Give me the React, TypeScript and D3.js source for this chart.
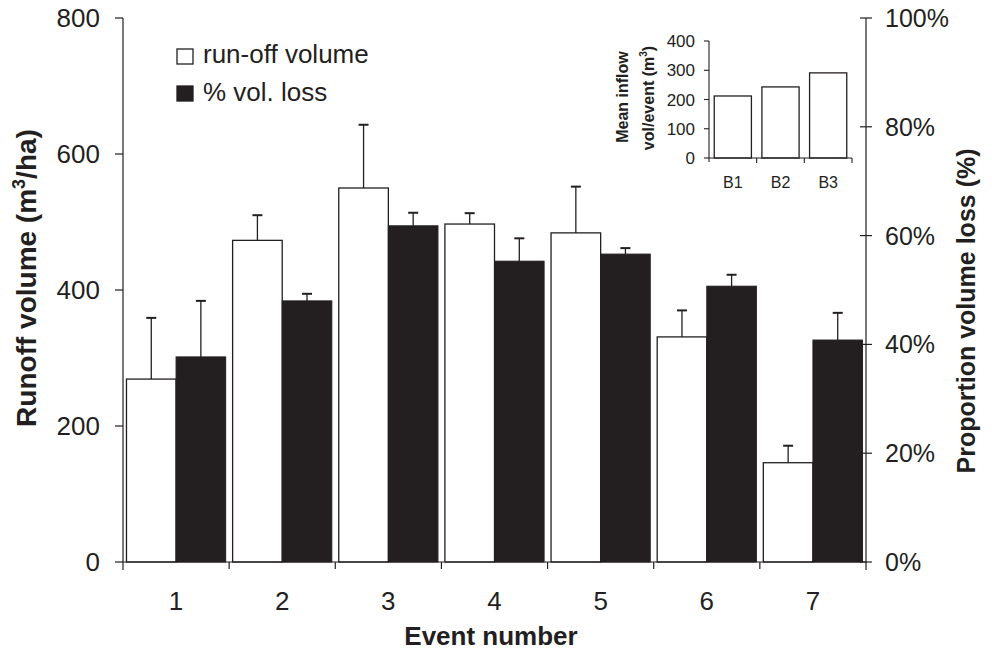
import React from "react";
import * as d3 from "d3";

const events = ["1", "2", "3", "4", "5", "6", "7"];
const runoff = [269, 473, 550, 497, 484, 331, 146];
const runoffErr = [90, 37, 93, 16, 68, 39, 25];
const volLoss = [0.377, 0.48, 0.618, 0.553, 0.566, 0.507, 0.408];
const volLossErr = [0.103, 0.013, 0.024, 0.042, 0.011, 0.021, 0.05];
const leftTicks = [0, 200, 400, 600, 800];
const rightTicks = [0, 0.2, 0.4, 0.6, 0.8, 1];

const basins = ["B1", "B2", "B3"];
const inflow = [212, 243, 291];
const insetTicks = [0, 100, 200, 300, 400];

const W = 992;
const H = 654;
const ink = "#231f20";
const font = "'Liberation Sans', Arial, sans-serif";

export default function App() {
  const m = { left: 123, right: 866, top: 18, bottom: 562 };
  const x = d3.scaleBand().domain(events).range([m.left, m.right]).paddingInner(0).paddingOuter(0);
  const inner = d3.scaleBand().domain(["a", "b"]).range([0, x.bandwidth()]).paddingInner(0).paddingOuter(0.07);
  const yL = d3.scaleLinear().domain([0, 800]).range([m.bottom, m.top]);
  const yR = d3.scaleLinear().domain([0, 1]).range([m.bottom, m.top]);

  const im = { left: 709, right: 852, top: 41, bottom: 158 };
  const xi = d3.scaleBand().domain(basins).range([im.left, im.right]).paddingInner(0.22).paddingOuter(0.11);
  const yi = d3.scaleLinear().domain([0, 400]).range([im.bottom, im.top]);

  const bw = inner.bandwidth();
  const cap = 5;

  const errBar = (cx: number, y0: number, y1: number, key: string) => (
    <g key={key} stroke={ink} strokeWidth={1.3}>
      <line x1={cx} x2={cx} y1={y0} y2={y1} />
      <line x1={cx - cap} x2={cx + cap} y1={y1} y2={y1} strokeWidth={2} />
    </g>
  );

  return (
    <svg width={W} height={H} style={{ position: "absolute", left: 0, top: 0, background: "#fff" }} fontFamily={font}>
      {/* bars */}
      {events.map((e, i) => {
        const x0 = x(e)!;
        const wx = x0 + inner("a")!;
        const bx = x0 + inner("b")!;
        return (
          <g key={e}>
            {errBar(wx + bw / 2, yL(runoff[i]), yL(runoff[i] + runoffErr[i]), "we" + e)}
            <rect x={wx} y={yL(runoff[i])} width={bw} height={m.bottom - yL(runoff[i])} fill="#fff" stroke={ink} strokeWidth={1.3} />
            {errBar(bx + bw / 2, yR(volLoss[i]), yR(volLoss[i] + volLossErr[i]), "be" + e)}
            <rect x={bx} y={yR(volLoss[i])} width={bw} height={m.bottom - yR(volLoss[i])} fill={ink} stroke={ink} strokeWidth={1} />
          </g>
        );
      })}

      {/* left axis */}
      <g stroke={ink} strokeWidth={1.2}>
        <line x1={m.left} x2={m.left} y1={m.top} y2={m.bottom + 8} />
        {leftTicks.map((t) => (
          <line key={t} x1={m.left - 8} x2={m.left} y1={yL(t)} y2={yL(t)} />
        ))}
      </g>
      {leftTicks.map((t) => (
        <text key={t} x={100} y={yL(t)} dy="0.36em" textAnchor="end" fontSize={26} fill={ink}>
          {t}
        </text>
      ))}

      {/* right axis */}
      <g stroke={ink} strokeWidth={1.2}>
        <line x1={m.right} x2={m.right} y1={m.top} y2={m.bottom + 8} />
        {rightTicks.map((t) => (
          <line key={t} x1={m.right - 6} x2={m.right + 6} y1={yR(t)} y2={yR(t)} />
        ))}
      </g>
      {rightTicks.map((t) => (
        <text key={t} x={885} y={yR(t)} dy="0.36em" textAnchor="start" fontSize={25} fill={ink}>
          {d3.format(".0%")(t)}
        </text>
      ))}

      {/* x axis */}
      <g stroke={ink} strokeWidth={1.2}>
        <line x1={m.left} x2={m.right} y1={m.bottom} y2={m.bottom} />
        {events.slice(1).map((e) => (
          <line key={e} x1={x(e)!} x2={x(e)!} y1={m.bottom} y2={m.bottom + 7} />
        ))}
      </g>
      {events.map((e) => (
        <text key={e} x={x(e)! + x.bandwidth() / 2} y={610} textAnchor="middle" fontSize={26} fill={ink}>
          {e}
        </text>
      ))}

      {/* axis titles */}
      <text x={491} y={645} textAnchor="middle" fontSize={26} fontWeight="bold" fill={ink}>
        Event number
      </text>
      <text transform={`translate(36,278) rotate(-90)`} textAnchor="middle" fontSize={28} fontWeight="bold" fill={ink}>
        Runoff volume (m<tspan dy={-11} fontSize={18}>3</tspan><tspan dy={11}>/ha)</tspan>
      </text>
      <text transform={`translate(975,311) rotate(-90)`} textAnchor="middle" fontSize={25} fontWeight="bold" fill={ink}>
        Proportion volume loss (%)
      </text>

      {/* legend */}
      <rect x={177} y={49} width={16} height={15} fill="#fff" stroke={ink} strokeWidth={1.3} />
      <text x={203} y={63} fontSize={26} fill={ink}>run-off volume</text>
      <rect x={177} y={86} width={16} height={15} fill={ink} stroke={ink} strokeWidth={1.3} />
      <text x={203} y={101} fontSize={26} fill={ink}>% vol. loss</text>

      {/* inset */}
      {basins.map((b, i) => (
        <rect key={b} x={xi(b)!} y={yi(inflow[i])} width={xi.bandwidth()} height={im.bottom - yi(inflow[i])} fill="#fff" stroke={ink} strokeWidth={1.3} />
      ))}
      <g stroke={ink} strokeWidth={1.1}>
        <line x1={im.left} x2={im.left} y1={im.top} y2={im.bottom + 4} />
        <line x1={im.left} x2={im.right} y1={im.bottom} y2={im.bottom} />
        {insetTicks.map((t) => (
          <line key={t} x1={im.left - 5} x2={im.left} y1={yi(t)} y2={yi(t)} />
        ))}
        {basins.map((b) => (
          <line key={b} x1={xi(b)! + xi.bandwidth() + (xi.step() - xi.bandwidth()) / 2} x2={xi(b)! + xi.bandwidth() + (xi.step() - xi.bandwidth()) / 2} y1={im.bottom} y2={im.bottom + 5} />
        ))}
      </g>
      {insetTicks.map((t) => (
        <text key={t} x={695} y={yi(t)} dy="0.36em" textAnchor="end" fontSize={17} fill={ink}>
          {t}
        </text>
      ))}
      {basins.map((b) => (
        <text key={b} x={xi(b)! + xi.bandwidth() / 2} y={188} textAnchor="middle" fontSize={16} fill={ink}>
          {b}
        </text>
      ))}
      <text transform={`translate(628,97) rotate(-90)`} textAnchor="middle" fontSize={16} fontWeight="bold" fill={ink}>
        Mean inflow
      </text>
      <text transform={`translate(654,98) rotate(-90)`} textAnchor="middle" fontSize={16} fontWeight="bold" fill={ink}>
        vol/event  (m<tspan dy={-7} fontSize={10}>3</tspan><tspan dy={7}>)</tspan>
      </text>
    </svg>
  );
}
